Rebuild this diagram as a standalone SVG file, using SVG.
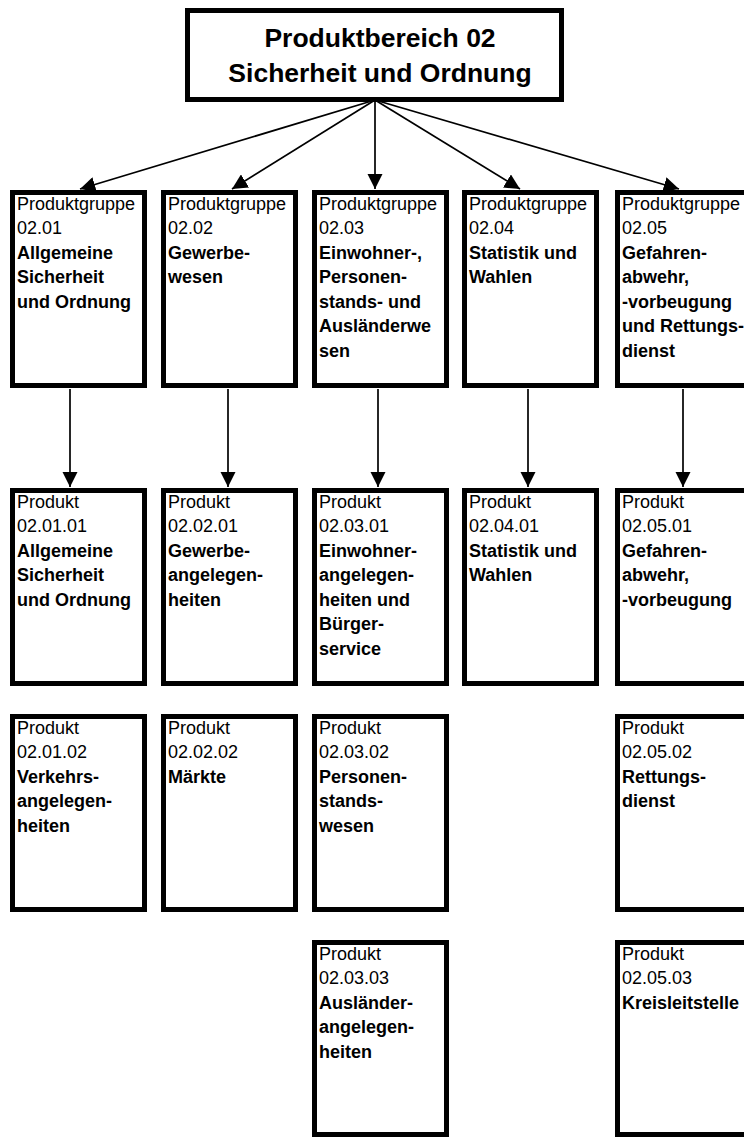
<svg xmlns="http://www.w3.org/2000/svg" width="744" height="1137" viewBox="0 0 744 1137">
<style>
.box{fill:#fff;stroke:#000;stroke-width:5}
.t{font-family:"Liberation Sans",Arial,sans-serif;font-size:18px;fill:#000}
.b{font-weight:bold}
.h{font-family:"Liberation Sans",Arial,sans-serif;font-size:26.5px;font-weight:bold;text-anchor:middle;fill:#000}
.c{stroke:#000;stroke-width:1.7;fill:none;marker-end:url(#ah)}
</style>
<defs>
<marker id="ah" viewBox="0 0 10 10" refX="10" refY="5" markerWidth="9" markerHeight="9" markerUnits="strokeWidth" orient="auto">
<path d="M0,0 L10,5 L0,10 z" fill="#000"/>
</marker>
</defs>
<rect width="744" height="1137" fill="#fff"/>
<g id="connectors">
<line class="c" x1="375" y1="100" x2="80" y2="189"/>
<line class="c" x1="375" y1="100" x2="232" y2="189"/>
<line class="c" x1="375" y1="100" x2="375" y2="189"/>
<line class="c" x1="375" y1="100" x2="520" y2="189"/>
<line class="c" x1="375" y1="100" x2="679" y2="189"/>
<line class="c" x1="70" y1="389" x2="70" y2="487"/>
<line class="c" x1="228" y1="389" x2="228" y2="487"/>
<line class="c" x1="378" y1="389" x2="378" y2="487"/>
<line class="c" x1="528" y1="389" x2="528" y2="487"/>
<line class="c" x1="683" y1="389" x2="683" y2="487"/>
</g>
<g id="root">
<rect class="box" x="187.5" y="10.5" width="374" height="89"/>
<text class="h" x="380" y="47">Produktbereich 02</text>
<text class="h" x="380" y="82">Sicherheit und Ordnung</text>
</g>
<g id="pg0201">
<rect class="box" x="12.5" y="192.5" width="132" height="193"/>
<text class="t" x="17" y="209.5">Produktgruppe</text>
<text class="t" x="17" y="234">02.01</text>
<text class="t b" x="17" y="258.5">Allgemeine</text>
<text class="t b" x="17" y="283">Sicherheit</text>
<text class="t b" x="17" y="307.5">und Ordnung</text>
</g>
<g id="pg0202">
<rect class="box" x="163.5" y="192.5" width="132" height="193"/>
<text class="t" x="168" y="209.5">Produktgruppe</text>
<text class="t" x="168" y="234">02.02</text>
<text class="t b" x="168" y="258.5">Gewerbe-</text>
<text class="t b" x="168" y="283">wesen</text>
</g>
<g id="pg0203">
<rect class="box" x="314.5" y="192.5" width="132" height="193"/>
<text class="t" x="319" y="209.5">Produktgruppe</text>
<text class="t" x="319" y="234">02.03</text>
<text class="t b" x="319" y="258.5">Einwohner-,</text>
<text class="t b" x="319" y="283">Personen-</text>
<text class="t b" x="319" y="307.5">stands- und</text>
<text class="t b" x="319" y="332">Ausländerwe</text>
<text class="t b" x="319" y="356.5">sen</text>
</g>
<g id="pg0204">
<rect class="box" x="464.5" y="192.5" width="132" height="193"/>
<text class="t" x="469" y="209.5">Produktgruppe</text>
<text class="t" x="469" y="234">02.04</text>
<text class="t b" x="469" y="258.5">Statistik und</text>
<text class="t b" x="469" y="283">Wahlen</text>
</g>
<g id="pg0205">
<rect class="box" x="617.5" y="192.5" width="132" height="193"/>
<text class="t" x="622" y="209.5">Produktgruppe</text>
<text class="t" x="622" y="234">02.05</text>
<text class="t b" x="622" y="258.5">Gefahren-</text>
<text class="t b" x="622" y="283">abwehr,</text>
<text class="t b" x="622" y="307.5">-vorbeugung</text>
<text class="t b" x="622" y="332">und Rettungs-</text>
<text class="t b" x="622" y="356.5">dienst</text>
</g>
<g id="p020101">
<rect class="box" x="12.5" y="490.5" width="132" height="193"/>
<text class="t" x="17" y="507.5">Produkt</text>
<text class="t" x="17" y="532">02.01.01</text>
<text class="t b" x="17" y="556.5">Allgemeine</text>
<text class="t b" x="17" y="581">Sicherheit</text>
<text class="t b" x="17" y="605.5">und Ordnung</text>
</g>
<g id="p020201">
<rect class="box" x="163.5" y="490.5" width="132" height="193"/>
<text class="t" x="168" y="507.5">Produkt</text>
<text class="t" x="168" y="532">02.02.01</text>
<text class="t b" x="168" y="556.5">Gewerbe-</text>
<text class="t b" x="168" y="581">angelegen-</text>
<text class="t b" x="168" y="605.5">heiten</text>
</g>
<g id="p020301">
<rect class="box" x="314.5" y="490.5" width="132" height="193"/>
<text class="t" x="319" y="507.5">Produkt</text>
<text class="t" x="319" y="532">02.03.01</text>
<text class="t b" x="319" y="556.5">Einwohner-</text>
<text class="t b" x="319" y="581">angelegen-</text>
<text class="t b" x="319" y="605.5">heiten und</text>
<text class="t b" x="319" y="630">Bürger-</text>
<text class="t b" x="319" y="654.5">service</text>
</g>
<g id="p020401">
<rect class="box" x="464.5" y="490.5" width="132" height="193"/>
<text class="t" x="469" y="507.5">Produkt</text>
<text class="t" x="469" y="532">02.04.01</text>
<text class="t b" x="469" y="556.5">Statistik und</text>
<text class="t b" x="469" y="581">Wahlen</text>
</g>
<g id="p020501">
<rect class="box" x="617.5" y="490.5" width="132" height="193"/>
<text class="t" x="622" y="507.5">Produkt</text>
<text class="t" x="622" y="532">02.05.01</text>
<text class="t b" x="622" y="556.5">Gefahren-</text>
<text class="t b" x="622" y="581">abwehr,</text>
<text class="t b" x="622" y="605.5">-vorbeugung</text>
</g>
<g id="p020102">
<rect class="box" x="12.5" y="716.5" width="132" height="193"/>
<text class="t" x="17" y="733.5">Produkt</text>
<text class="t" x="17" y="758">02.01.02</text>
<text class="t b" x="17" y="782.5">Verkehrs-</text>
<text class="t b" x="17" y="807">angelegen-</text>
<text class="t b" x="17" y="831.5">heiten</text>
</g>
<g id="p020202">
<rect class="box" x="163.5" y="716.5" width="132" height="193"/>
<text class="t" x="168" y="733.5">Produkt</text>
<text class="t" x="168" y="758">02.02.02</text>
<text class="t b" x="168" y="782.5">Märkte</text>
</g>
<g id="p020302">
<rect class="box" x="314.5" y="716.5" width="132" height="193"/>
<text class="t" x="319" y="733.5">Produkt</text>
<text class="t" x="319" y="758">02.03.02</text>
<text class="t b" x="319" y="782.5">Personen-</text>
<text class="t b" x="319" y="807">stands-</text>
<text class="t b" x="319" y="831.5">wesen</text>
</g>
<g id="p020502">
<rect class="box" x="617.5" y="716.5" width="132" height="193"/>
<text class="t" x="622" y="733.5">Produkt</text>
<text class="t" x="622" y="758">02.05.02</text>
<text class="t b" x="622" y="782.5">Rettungs-</text>
<text class="t b" x="622" y="807">dienst</text>
</g>
<g id="p020303">
<rect class="box" x="314.5" y="942.5" width="132" height="192"/>
<text class="t" x="319" y="959.5">Produkt</text>
<text class="t" x="319" y="984">02.03.03</text>
<text class="t b" x="319" y="1008.5">Ausländer-</text>
<text class="t b" x="319" y="1033">angelegen-</text>
<text class="t b" x="319" y="1057.5">heiten</text>
</g>
<g id="p020503">
<rect class="box" x="617.5" y="942.5" width="132" height="192"/>
<text class="t" x="622" y="959.5">Produkt</text>
<text class="t" x="622" y="984">02.05.03</text>
<text class="t b" x="622" y="1008.5">Kreisleitstelle</text>
</g>
</svg>
